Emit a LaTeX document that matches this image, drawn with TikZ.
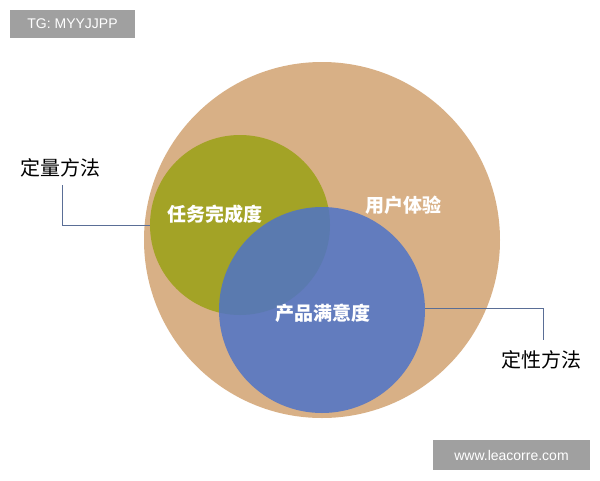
\documentclass[tikz,border=0pt]{standalone}
\usepackage{fontspec}
\setmainfont{Noto Sans CJK SC}
\newfontfamily\tagfont{Liberation Sans}
\usetikzlibrary{positioning}
\definecolor{tanbg}{RGB}{216,176,134}
\definecolor{olivec}{RGB}{163,163,38}
\definecolor{bluec}{RGB}{78,115,200}
\definecolor{tagbg}{RGB}{160,160,160}
\definecolor{linec}{RGB}{90,110,150}

\begin{document}
\begin{tikzpicture}[x=1pt, y=-1pt]
    \tikzset{circlab/.style={text=white, font=\bfseries\fontsize{19}{19}\selectfont},
             sidelab/.style={font=\fontsize{20}{20}\selectfont},
             tag/.style={fill=tagbg, text=white, font=\tagfont\fontsize{14}{14}\selectfont, inner sep=4pt},
             leader/.style={linec, line width=0.6pt}}
    \useasboundingbox (0,0) rectangle (600,480);
    % circles
    \fill[tanbg] (322,240) circle (178);
    \fill[olivec] (240,225) circle (90);
    \fill[bluec, fill opacity=0.85] (322,310) circle (103);
    \node[circlab] (ux) at (403,205) {用户体验};
    \node[circlab] (task) at (215,214) {任务完成度};
    \node[circlab] (sat) at (323,313) {产品满意度};
    % side labels
    \node[sidelab] (quant) at (60,168) {定量方法};
    \node[sidelab] (qual) at (541,360) {定性方法};
    \coordinate (q1) at (150,225);
    \coordinate (q2) at (425,308);
    \draw[leader] (62,185) |- (q1);
    \draw[leader] (q2) -| (543,340);
    % tags
    \node[tag, minimum width=125, minimum height=28] (tg) at (72.5,24) {TG: MYYJJPP};
    \node[tag, minimum width=157, minimum height=30] (web) at (511.5,455) {www.leacorre.com};
\end{tikzpicture}
\end{document}
